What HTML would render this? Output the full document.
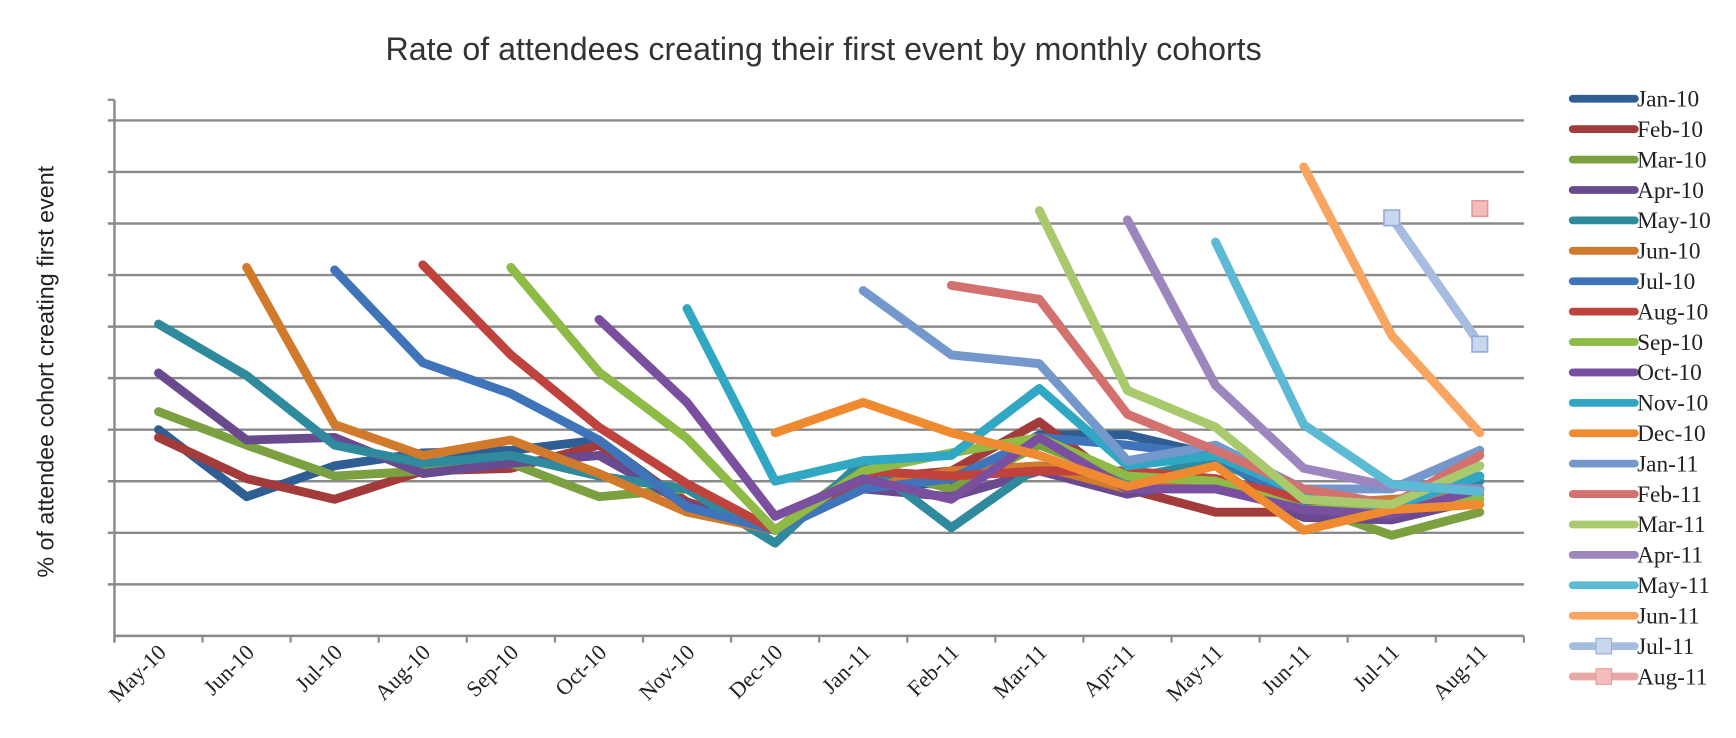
<!DOCTYPE html>
<html><head><meta charset="utf-8"><style>
html,body{margin:0;padding:0;background:#fff;}
svg{display:block;}
</style></head><body>
<svg id="chart" width="1736" height="738" viewBox="0 0 1564 665" xmlns="http://www.w3.org/2000/svg">
<text x="742" y="54" text-anchor="middle" font-family="Liberation Sans, sans-serif" font-size="29" fill="#333">Rate of attendees creating their first event by monthly cohorts</text>
<text transform="translate(48,335) rotate(-90)" text-anchor="middle" font-family="Liberation Sans, sans-serif" font-size="21" fill="#222">% of attendee cohort creating first event</text>
<g id="grid"></g><g id="series"></g><g id="xlabels"></g><g id="legend"></g>
</svg>
<script>
const categories=["May-10","Jun-10","Jul-10","Aug-10","Sep-10","Oct-10","Nov-10","Dec-10","Jan-11","Feb-11","Mar-11","Apr-11","May-11","Jun-11","Jul-11","Aug-11"];
const cohortNames=["Jan-10","Feb-10","Mar-10","Apr-10","May-10","Jun-10","Jul-10","Aug-10","Sep-10","Oct-10","Nov-10","Dec-10","Jan-11","Feb-11","Mar-11","Apr-11","May-11","Jun-11","Jul-11","Aug-11"];
const cohortStart=[0,0,0,0,0,1,2,3,4,5,6,7,8,9,10,11,12,13,14,15];
const cohortColors=["#2F5E95","#A33B3A","#7BA03F","#6A4A8E","#2E8A9C","#D27A2C","#3F74BA","#C0423D","#8DBB45","#7A4FA0","#30A8C4","#F08A30","#7598CC","#D3716E","#A8C96C","#9D86BE","#5CBAD4","#F8A561","#A7BDE0","#E7A9A8"];
// values in gridline units (0 = axis, 1 gridline = 1 unit)
const sJan10=[4.0,2.7,3.3,3.55,3.6,3.8,2.55,2.05,2.95,2.95,3.9,3.9,3.5,2.4,2.55,3.1];
const sFeb10=[3.85,3.05,2.65,3.2,3.25,3.7,2.6,2.05,3.05,3.2,4.15,2.85,2.4,2.4,2.4,2.85];
const sMar10=[4.35,3.7,3.1,3.2,3.35,2.7,2.85,2.05,3.3,2.85,3.7,3.05,2.85,2.55,1.95,2.4];
const sApr10=[5.1,3.8,3.85,3.15,3.35,3.5,2.55,2.05,2.85,2.7,3.2,2.75,3.05,2.3,2.25,2.65];
const sMay10=[6.05,5.05,3.7,3.35,3.5,3.1,2.85,1.8,3.4,2.1,3.3,3.05,3.4,2.65,2.55,3.0];
const sJun10=[7.15,4.1,3.5,3.8,3.15,2.4,2.05,2.85,3.2,3.3,2.85,3.05,2.55,2.65,2.75];
const sJul10=[7.1,5.3,4.7,3.8,2.5,2.05,2.85,3.05,3.85,3.7,3.5,2.55,2.45,3.3];
const sAug10=[7.2,5.45,4.05,2.95,2.05,3.2,3.1,3.2,3.2,3.05,2.65,2.45,3.6];
const sSep10=[7.15,5.12,3.83,2.05,3.2,3.55,3.85,3.1,3.0,2.45,2.5,2.65];
const sOct10=[6.14,4.53,2.32,3.05,2.65,3.85,2.85,2.85,2.45,2.35,2.85];
const sNov10=[6.35,3.0,3.4,3.5,4.8,3.3,3.5,2.75,2.5,3.1];
const sDec10=[3.94,4.53,3.94,3.5,2.9,3.3,2.05,2.45,2.55];
const sJan11=[6.7,5.45,5.28,3.4,3.7,2.85,2.85,3.6];
const sFeb11=[6.8,6.53,4.3,3.6,2.85,2.55,3.5];
const sMar11=[8.25,4.76,4.05,2.65,2.55,3.3];
const sApr11=[8.07,4.86,3.25,2.9,2.85];
const sMay11=[7.64,4.1,2.94,2.8];
const sJun11=[9.1,5.83,3.94];
const sJul11=[8.11,5.66];
const sAug11=[8.29];
const allSeries=[sJan10,sFeb10,sMar10,sApr10,sMay10,sJun10,sJul10,sAug10,sSep10,sOct10,sNov10,sDec10,sJan11,sFeb11,sMar11,sApr11,sMay11,sJun11,sJul11,sAug11];

const NS="http://www.w3.org/2000/svg";
const x0=103,x1=1373,yBase=573,unit=46.45;
const step=(x1-x0)/categories.length;
function xPos(i){return x0+step*(i+0.5);}
function yPos(v){return yBase-v*unit;}
function mk(tag,attrs,parent){const e=document.createElementNS(NS,tag);for(const k in attrs)e.setAttribute(k,attrs[k]);parent.appendChild(e);return e;}

const grid=document.getElementById('grid');
for(let g=1;g<=10;g++){
  const l=mk('line',{x1:x0-6,x2:x1,y1:yPos(g),y2:yPos(g),stroke:'#8a8a8a','stroke-width':2.2},grid);
  
  
}
const yax=mk('line',{x1:x0,x2:x0,y1:yPos(10.4),y2:yBase+6,stroke:'#8a8a8a','stroke-width':2.2},grid);


mk('line',{x1:x0-6,x2:x0,y1:yPos(10.4),y2:yPos(10.4),stroke:'#8a8a8a','stroke-width':2},grid);
const xax=mk('line',{x1:x0,x2:x1,y1:yBase,y2:yBase,stroke:'#8a8a8a','stroke-width':2.2},grid);


for(let i=0;i<=categories.length;i++){
  mk('line',{x1:x0+step*i,x2:x0+step*i,y1:yBase,y2:yBase+6,stroke:'#8a8a8a','stroke-width':2},grid);
}
const xl=document.getElementById('xlabels');
categories.forEach((c,i)=>{
  const t=mk('text',{transform:`translate(${xPos(i)+8},${yBase+16}) rotate(-45)`,'text-anchor':'end','font-family':'Liberation Serif, serif','font-size':20,fill:'#222'},xl);
  t.textContent=c;
  
  
});
const sg=document.getElementById('series');
allSeries.forEach((s,k)=>{
  const pts=s.map((v,j)=>xPos(cohortStart[k]+j).toFixed(1)+','+yPos(v).toFixed(1)).join(' ');
  if(s.length>1){
    const p=mk('polyline',{points:pts,fill:'none',stroke:cohortColors[k],'stroke-width':8,'stroke-linejoin':'round','stroke-linecap':'round'},sg);
    
    
  }
  if(k>=18){
    s.forEach((v,j)=>{
      const r=mk('rect',{x:xPos(cohortStart[k]+j)-7,y:yPos(v)-7,width:14,height:14,fill:k==18?'#C9D7EE':'#F4BDBC',stroke:k==18?'#93AEDA':'#E39A99','stroke-width':1.5},sg);
      
      
    });
  }
});
const lg=document.getElementById('legend');
cohortNames.forEach((n,k)=>{
  const y=89+k*27.4;
  const g=mk('g',{},lg);
  
  
  mk('line',{x1:1417,x2:1473,y1:y,y2:y,stroke:cohortColors[k],'stroke-width':7,'stroke-linecap':'round'},g);
  if(k>=18) mk('rect',{x:1438,y:y-7,width:14,height:14,fill:k==18?'#C9D7EE':'#F4BDBC',stroke:k==18?'#93AEDA':'#E39A99'},g);
  const t=mk('text',{x:1475,y:y+7,'font-family':'Liberation Serif, serif','font-size':21,fill:'#222'},g);
  t.textContent=n;
});
</script>
</body></html>
